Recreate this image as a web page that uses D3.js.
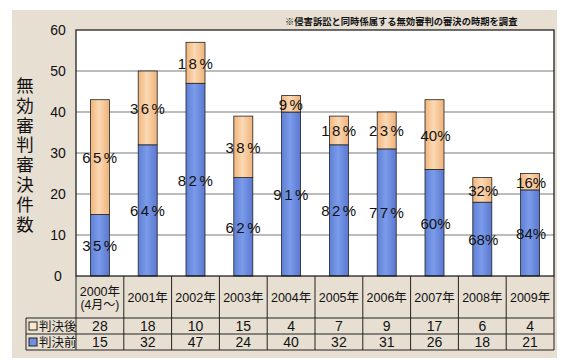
<!DOCTYPE html>
<html>
<head>
<meta charset="utf-8">
<script src="https://cdn.jsdelivr.net/npm/d3@7"></script>
<style>
  body { margin: 0; background: #fff; }
  svg text { font-family: "Liberation Sans", Arial, "Noto Sans CJK JP", sans-serif; fill: #111; }
</style>
</head>
<body>
<svg id="chart" width="565" height="364"></svg>
<script>
// data
var years = ["2000年", "2001年", "2002年", "2003年", "2004年", "2005年", "2006年", "2007年", "2008年", "2009年"];
var after = [28, 18, 10, 15, 4, 7, 9, 17, 6, 4];      // 判決後
var before = [15, 32, 47, 24, 40, 32, 31, 26, 18, 21]; // 判決前
var afterPct = ["65%", "36%", "18%", "38%", "9%", "18%", "23%", "40%", "32%", "16%"];
var beforePct = ["35%", "64%", "82%", "62%", "91%", "82%", "77%", "60%", "68%", "84%"];
var yTicks = [0, 10, 20, 30, 40, 50, 60];

var svg = d3.select("#chart");
var plotLeft = 76, plotRight = 554, plotTop = 30, plotBottom = 276;

var defs = svg.append("defs");
function grad(id, stops) {
    var g = defs.append("linearGradient").attr("id", id)
        .attr("x1", "0%").attr("x2", "100%").attr("y1", "0%").attr("y2", "0%");
    stops.forEach(function(s) {
        g.append("stop").attr("offset", s[0]).attr("stop-color", s[1]);
    });
}
grad("blueGrad", [["0%", "#5f7fd6"], ["45%", "#7b9bea"], ["100%", "#5a78cf"]]);
grad("orangeGrad", [["0%", "#f1b47a"], ["45%", "#fbd9b4"], ["100%", "#efb27a"]]);

// beige panel
svg.append("rect").attr("x", 12).attr("y", 10).attr("width", 545).attr("height", 348)
    .attr("fill", "#e7dfd2");

// note
svg.append("text").attr("x", 285).attr("y", 25)
    .style("font-size", "9.3px").style("font-weight", "bold")
    .text("※侵害訴訟と同時係属する無効審判の審決の時期を調査");

var x = d3.scaleBand().domain(years).range([plotLeft, plotRight]);
var y = d3.scaleLinear().domain([0, 60]).range([plotBottom, plotTop]);

// plot area
svg.append("rect").attr("x", plotLeft).attr("y", plotTop)
    .attr("width", plotRight - plotLeft).attr("height", plotBottom - plotTop)
    .attr("fill", "#fff");

svg.append("g").selectAll("line").data(yTicks.filter(function(d) { return d > 0 && d < 60; }))
    .enter().append("line")
    .attr("x1", plotLeft).attr("x2", plotRight)
    .attr("y1", function(d) { return y(d); }).attr("y2", function(d) { return y(d); })
    .attr("stroke", "#7a7a7a").attr("stroke-width", 1.2);

// y tick labels
svg.append("g").selectAll("text").data(yTicks).enter().append("text")
    .attr("x", 58).attr("y", function(d) { return y(d) + 5; })
    .attr("text-anchor", "middle")
    .style("font-size", "14px")
    .text(function(d) { return d; });

// y title, vertical
var title = "無効審判審決件数".split("");
svg.append("g").selectAll("text").data(title).enter().append("text")
    .attr("x", 25).attr("y", function(d, i) { return 92 + i * 19.8; })
    .attr("text-anchor", "middle")
    .style("font-size", "17.5px")
    .text(function(d) { return d; });

// bars
var bw = 19;
var bars = svg.append("g").selectAll("g").data(years).enter().append("g");
bars.append("rect")
    .attr("x", function(d) { return x(d) + x.bandwidth() / 2 - bw / 2; })
    .attr("y", function(d, i) { return y(before[i]); })
    .attr("width", bw)
    .attr("height", function(d, i) { return y(0) - y(before[i]); })
    .attr("fill", "url(#blueGrad)").attr("stroke", "#222").attr("stroke-width", 0.8);
bars.append("rect")
    .attr("x", function(d) { return x(d) + x.bandwidth() / 2 - bw / 2; })
    .attr("y", function(d, i) { return y(before[i] + after[i]); })
    .attr("width", bw)
    .attr("height", function(d, i) { return y(before[i]) - y(before[i] + after[i]); })
    .attr("fill", "url(#orangeGrad)").attr("stroke", "#222").attr("stroke-width", 0.8);

// the last three columns are set tighter in the original
function spacing(d, i) { return i >= 7 ? "0px" : "2.5px"; }
bars.append("text")
    .attr("x", function(d) { return x(d) + x.bandwidth() / 2 + 1; })
    .attr("y", function(d, i) { return y(before[i] / 2) + 6; })
    .attr("text-anchor", "middle")
    .style("font-size", "15px").style("letter-spacing", spacing)
    .text(function(d, i) { return beforePct[i]; });
bars.append("text")
    .attr("x", function(d) { return x(d) + x.bandwidth() / 2 + 1; })
    .attr("y", function(d, i) { return y(before[i] + after[i] / 2) + 6; })
    .attr("text-anchor", "middle")
    .style("font-size", "15px").style("letter-spacing", spacing)
    .text(function(d, i) { return afterPct[i]; });

// plot border
svg.append("rect").attr("x", plotLeft).attr("y", plotTop)
    .attr("width", plotRight - plotLeft).attr("height", plotBottom - plotTop)
    .attr("fill", "none").attr("stroke", "#111").attr("stroke-width", 1.2);

// table
var rowTop = 318, rowMid = 334, rowBot = 350, labLeft = 26;
var tbl = svg.append("g").attr("stroke", "#222").attr("stroke-width", 1);
x.domain().forEach(function(d) {
    tbl.append("line").attr("x1", x(d)).attr("x2", x(d)).attr("y1", plotBottom).attr("y2", rowBot);
});
tbl.append("line").attr("x1", plotRight).attr("x2", plotRight).attr("y1", plotBottom).attr("y2", rowBot);
tbl.append("line").attr("x1", labLeft).attr("x2", labLeft).attr("y1", rowTop).attr("y2", rowBot);
[rowTop, rowMid, rowBot].forEach(function(yy) {
    tbl.append("line").attr("x1", labLeft).attr("x2", plotRight).attr("y1", yy).attr("y2", yy);
});

// category labels
svg.append("g").selectAll("text").data(years).enter().append("text")
    .attr("x", function(d) { return x(d) + x.bandwidth() / 2; })
    .attr("y", function(d, i) { return i === 0 ? 296 : 302; })
    .attr("text-anchor", "middle")
    .style("font-size", "12.5px")
    .text(function(d) { return d; });
svg.append("text").attr("x", x(years[0]) + x.bandwidth() / 2).attr("y", 309)
    .attr("text-anchor", "middle").style("font-size", "12px").text("(4月〜)");

// table values
svg.append("g").selectAll("text").data(after).enter().append("text")
    .attr("x", function(d, i) { return x(years[i]) + x.bandwidth() / 2; })
    .attr("y", rowMid - 3)
    .attr("text-anchor", "middle").style("font-size", "14px")
    .text(function(d) { return d; });
svg.append("g").selectAll("text").data(before).enter().append("text")
    .attr("x", function(d, i) { return x(years[i]) + x.bandwidth() / 2; })
    .attr("y", rowBot - 3)
    .attr("text-anchor", "middle").style("font-size", "14px")
    .text(function(d) { return d; });

// row labels with swatches
var rows = [{ name: "判決後", fill: "#fbe7cf", y: rowTop }, { name: "判決前", fill: "#6f8fe0", y: rowMid }];
rows.forEach(function(r) {
    svg.append("rect").attr("x", 29).attr("y", r.y + 4).attr("width", 8).attr("height", 8)
        .attr("fill", r.fill).attr("stroke", "#222").attr("stroke-width", 1);
    svg.append("text").attr("x", 39).attr("y", r.y + 13)
        .style("font-size", "12.5px").text(r.name);
});
</script>
</body>
</html>
